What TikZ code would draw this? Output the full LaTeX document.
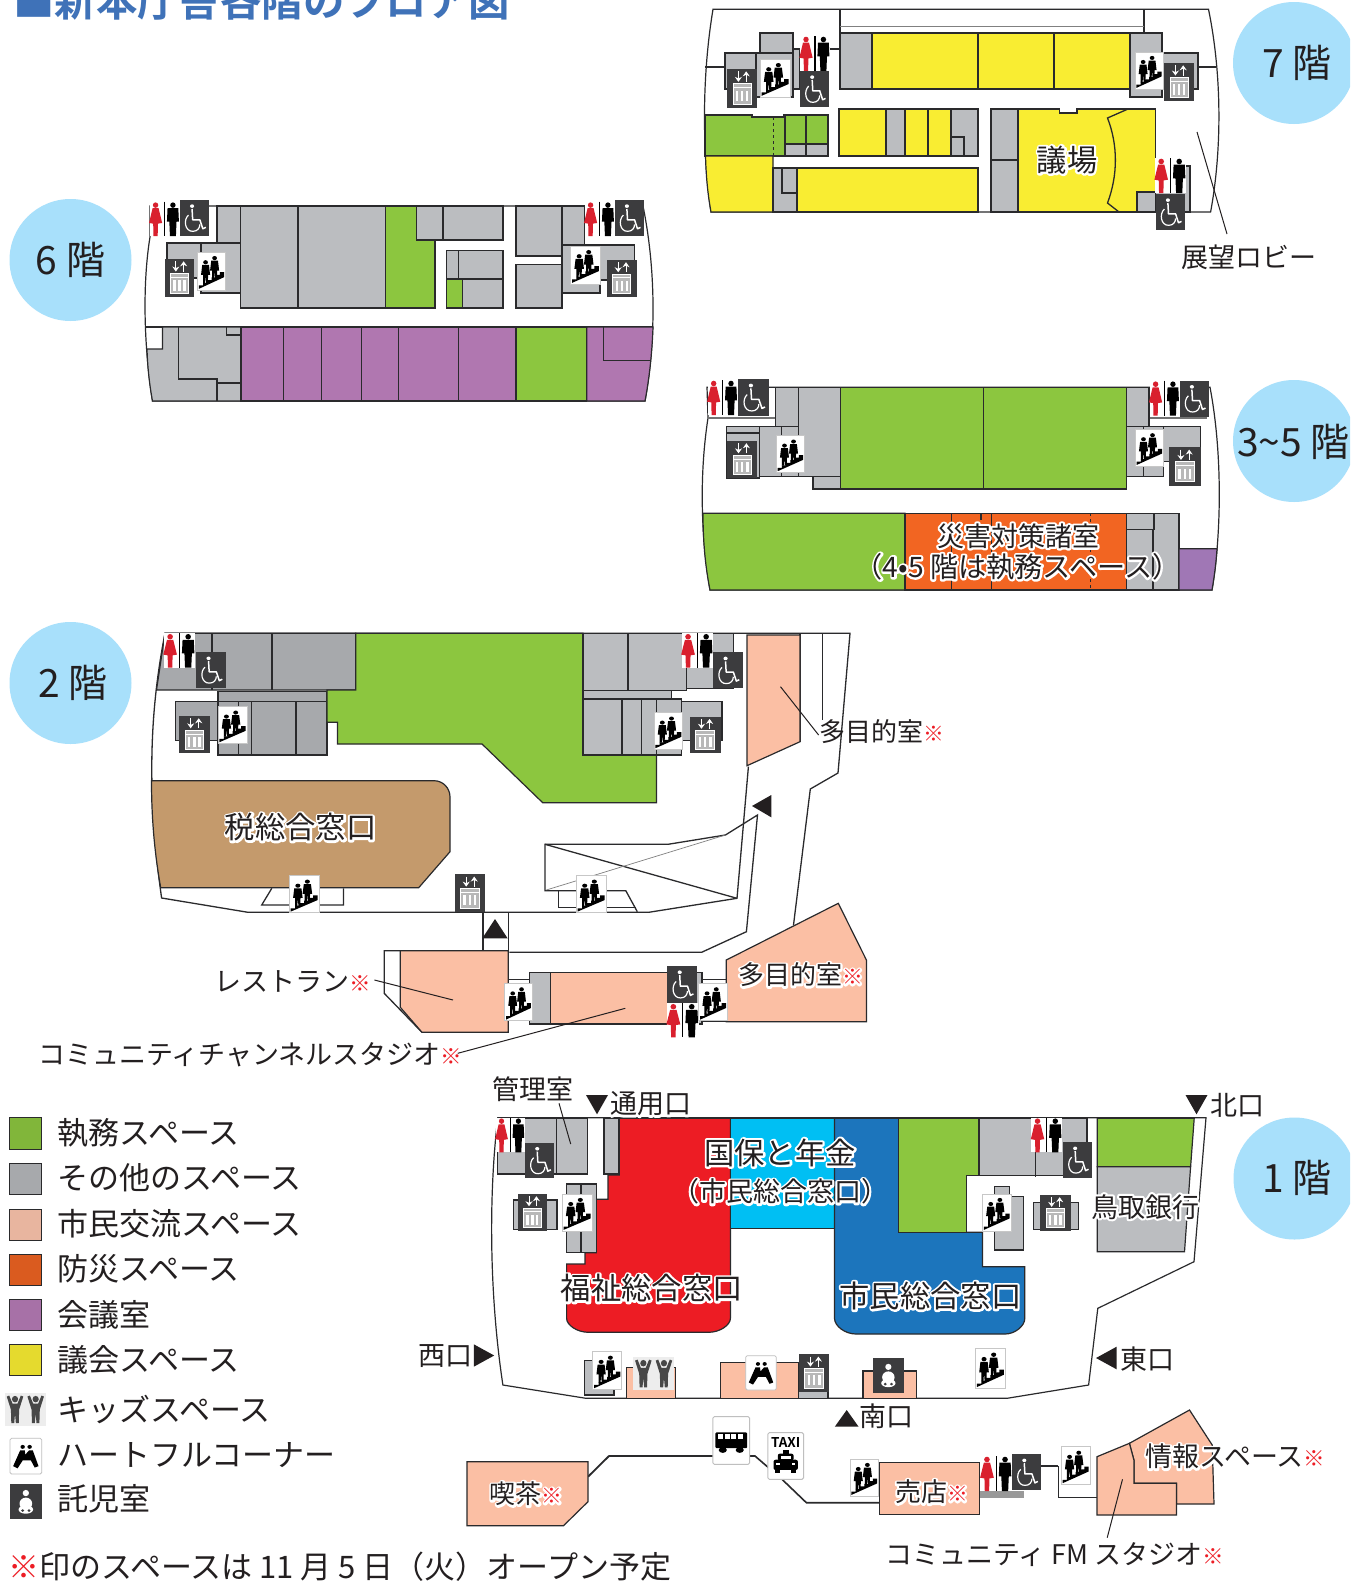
\documentclass[tikz,border=0pt]{standalone}
\usepackage{fontspec}
\usetikzlibrary{arrows.meta}
\setmainfont{Noto Sans CJK JP}[BoldFont={Noto Sans CJK JP Bold}]
\definecolor{ink}{HTML}{231F20}
\definecolor{wall}{HTML}{2A2A2C}
\definecolor{cgreen}{HTML}{8CC63F}
\definecolor{cgray}{HTML}{BBBDC0}
\definecolor{cdark}{HTML}{A7A9AC}
\definecolor{cyellow}{HTML}{F9ED32}
\definecolor{cpurple}{HTML}{B077B0}
\definecolor{cviolet}{HTML}{A077B5}
\definecolor{cpink}{HTML}{FBBFA4}
\definecolor{corange}{HTML}{F26522}
\definecolor{cred}{HTML}{ED1C24}
\definecolor{ccyan}{HTML}{00BFF3}
\definecolor{cblue}{HTML}{1C75BC}
\definecolor{ctan}{HTML}{C49A6C}
\definecolor{csky}{HTML}{A8E0FB}
\definecolor{ctitle}{HTML}{3F72B8}
\definecolor{kdark}{HTML}{3C3C3E}
\definecolor{kome}{HTML}{ED1C24}
\definecolor{wred}{HTML}{D9202E}
\newcommand\kome{{\fontsize{0.8em}{1em}\selectfont\bfseries\textcolor{kome}{※}}}
\newcommand\plainkome{{\fontsize{0.8em}{1em}\selectfont\bfseries ※}}
\newcommand\hl[1]{\begingroup\let\kome\plainkome\rlap{\special{pdf:code q 2 Tr 4.2 w 1 1 1 RG 1 1 1 rg 1 j}#1\special{pdf:code Q}}\endgroup #1}
\newcommand\px[1]{\fontsize{#1}{#1}\selectfont}
\tikzset{
 x=1pt,y=-1pt,
 base/.style={draw=wall,line width=1.2pt,line join=miter},
 fgn/.style={base,fill=cgreen},
 fgy/.style={base,fill=cgray},
 fdk/.style={base,fill=cdark},
 fye/.style={base,fill=cyellow},
 fpu/.style={base,fill=cpurple},
 fvi/.style={base,fill=cviolet},
 fpk/.style={base,fill=cpink},
 for/.style={base,fill=corange},
 fre/.style={base,fill=cred},
 fcy/.style={base,fill=ccyan},
 fbl/.style={base,fill=cblue},
 fta/.style={base,fill=ctan},
 shell/.style={base,fill=white},
 walls/.style={draw=wall,line width=1.3pt},
 thin wall/.style={draw=wall,line width=.8pt},
 leader/.style={draw=ink,line width=1pt},
 tri/.style={fill=ink},
 lab/.style={inner sep=0pt,text=ink,font=\px{27}},
 labs/.style={inner sep=0pt,text=ink,font=\px{26}},
 big/.style={inner sep=0pt,text=ink,font=\px{30.3}},
 legendtext/.style={inner sep=0pt,text=ink,font=\px{31}},
 sq/.style={draw=wall,line width=1pt},
 bubble/.style={fill=csky},
 flo/.style={inner sep=0pt,text=ink,font=\px{39}}
}
\newcommand\icoin[4]{\pgfmathsetmacro\icw{#3-#1}\pgfmathsetmacro\ich{#4-#2}}
\newcommand\esc[4]{\icoin{#1}{#2}{#3}{#4}\begin{scope}[shift={(#1,#2)},x=\icw pt,y=-\ich pt]
 \fill[white,draw=black!22,line width=.6pt] (0,0) rectangle (1,1);
 \fill[black] (.05,.97)--(.05,.88)--(.2,.88)--(.2,.81)--(.35,.81)--(.35,.74)--(.5,.74)--(.5,.67)--(.65,.67)--(.65,.6)--(.8,.6)--(.8,.53)--(.95,.53)--(.95,.66)--cycle;
 \foreach \dx/\dy in {0/0,.32/-.11}{\begin{scope}[shift={(\dx,\dy)}]
  \fill[black] (.29,.27) ellipse[x radius=.085,y radius=.055];
  \fill[black] (.17,.34)--(.41,.34)--(.45,.6)--(.38,.6)--(.37,.82)--(.31,.82)--(.29,.62)--(.27,.82)--(.2,.82)--(.2,.6)--(.13,.6)--cycle;
 \end{scope}}
\end{scope}}
\newcommand\elev[4]{\icoin{#1}{#2}{#3}{#4}\begin{scope}[shift={(#1,#2)},x=\icw pt,y=-\ich pt]
 \fill[kdark] (0,0) rectangle (1,1);
 \draw[white,line width=1pt,-{Stealth[length=5pt,width=7pt]}] (.38,.06)--(.38,.33);
 \draw[white,line width=1pt,-{Stealth[length=5pt,width=7pt]}] (.64,.33)--(.64,.06);
 \fill[white!72!black] (.2,.38) rectangle (.8,.9);
 \draw[white,line width=.9pt] (.2,.38) rectangle (.8,.9);
 \draw[white,line width=.8pt] (.2,.48)--(.8,.48);
 \foreach \bx in {.33,.5,.67}{\fill[white] (\bx-.04,.56) rectangle (\bx+.04,.83);}
\end{scope}}
\newcommand\wc[4]{\icoin{#1}{#2}{#3}{#4}\begin{scope}[shift={(#1,#2)},x=\icw pt,y=-\ich pt]
 \fill[white] (0,0) rectangle (1,1);
 \fill[wred] (.2,.1) ellipse[x radius=.09,y radius=.08];
 \fill[wred] (.1,.19)--(.3,.19)--(.42,.62)--(.28,.64)--(.27,1)--(.13,1)--(.12,.64)--(-.02,.62)--cycle;
 \draw[black,line width=1.2pt] (.5,0)--(.5,1);
 \fill[black] (.78,.1) ellipse[x radius=.09,y radius=.08];
 \fill[black] (.6,.19)--(.96,.19)--(.98,.58)--(.9,.58)--(.88,1)--(.68,1)--(.66,.58)--(.58,.58)--cycle;
\end{scope}}
\newcommand\wheel[4]{\icoin{#1}{#2}{#3}{#4}\begin{scope}[shift={(#1,#2)},x=\icw pt,y=-\ich pt]
 \fill[kdark] (0,0) rectangle (1,1);
 \fill[white] (.42,.17) ellipse[x radius=.07,y radius=.05];
 \draw[white,line width=1.5pt,line join=round] (.42,.25)--(.44,.55)--(.68,.55)--(.78,.8)--(.88,.76);
 \draw[white,line width=1.2pt] (.3,.42) .. controls (.12,.55) and (.18,.88) .. (.45,.87) .. controls (.6,.87) and (.68,.78) .. (.68,.68);
\end{scope}}
\newcommand\kids[4]{\icoin{#1}{#2}{#3}{#4}\begin{scope}[shift={(#1,#2)},x=\icw pt,y=-\ich pt]
 \fill[black!7] (0,0) rectangle (1,1);
 \foreach \dx in {0,.5}{\begin{scope}[shift={(\dx,0)}]
  \fill[black!72] (.25,.18) ellipse[x radius=.075,y radius=.1];
  \fill[black!72] (.05,.1)--(.11,.07)--(.19,.32)--(.31,.32)--(.39,.07)--(.45,.1)--(.35,.5)--(.34,.92)--(.27,.92)--(.25,.62)--(.23,.92)--(.16,.92)--(.15,.5)--cycle;
 \end{scope}}
\end{scope}}
\newcommand\heartc[4]{\icoin{#1}{#2}{#3}{#4}\begin{scope}[shift={(#1,#2)},x=\icw pt,y=-\ich pt]
 \fill[white,draw=black!25,line width=.8pt,rounded corners=1.5pt] (0,0) rectangle (1,1);
 \fill[black] (.4,.24) ellipse[x radius=.07,y radius=.055];
 \fill[black] (.62,.24) ellipse[x radius=.07,y radius=.055];
 \fill[black] (.32,.34)--(.47,.34)--(.48,.46)--(.6,.34)--(.72,.34)--(.9,.78)--(.78,.82)--(.66,.62)--(.4,.62)--(.24,.84)--(.1,.78)--cycle;
\end{scope}}
\newcommand\baby[4]{\icoin{#1}{#2}{#3}{#4}\begin{scope}[shift={(#1,#2)},x=\icw pt,y=-\ich pt]
 \fill[kdark] (0,0) rectangle (1,1);
 \fill[white] (.5,.25) ellipse[x radius=.1,y radius=.09];
 \fill[white] (.5,.55) ellipse[x radius=.2,y radius=.17];
 \fill[white] (.5,.72) ellipse[x radius=.23,y radius=.12];
 \fill[kdark] (.4,.75) ellipse[x radius=.05,y radius=.04];
 \fill[kdark] (.6,.75) ellipse[x radius=.05,y radius=.04];
\end{scope}}
\begin{document}
\begin{tikzpicture}
\clip (0,0) rectangle (1350,1582);
\fill[white] (0,0) rectangle (1350,1582);
% ---- title
\node[inner sep=0pt,anchor=west,text=ctitle,font=\px{41.4}\bfseries] (title) at (13,1) {■新本庁舎各階のフロア図};
% ---- circles
\fill[bubble] (1294,63) circle[radius=61];
\fill[bubble] (70.5,260) circle[radius=61];
\fill[bubble] (1294,441) circle[radius=61];
\fill[bubble] (70.5,683) circle[radius=61];
\fill[bubble] (1294.5,1178.5) circle[radius=61];
\node[flo] (f7) at (1297,63) {7 階};
\node[flo] (f6) at (70.5,260) {6 階};
\node[flo,anchor=west] (f35) at (1237,442) {3\textasciitilde 5 階};
\node[flo] (f2) at (73,683) {2 階};
\node[flo] (f1) at (1297,1178) {1 階};
% ================ 7F
\draw[shell] (713,9.3)--(1208.5,9.3) .. controls (1222,75) and (1222,150) .. (1210.6,212)--(711,212) .. controls (702,150) and (702,75) .. (713,9.3)--cycle;
\draw[walls] (840,9.3)--(840,89);
\draw[walls] (1144,9.3)--(1144,33);
\draw[draw=black!50,line width=1.4pt] (840,26.7)--(1144,26.7);
\draw[walls] (840,33)--(1144,33);
\draw[walls] (705,67)--(725,67);
\draw[walls] (1198,67)--(1216,67);
\draw[walls] (830,49)--(840,49);
\draw[fgy] (760,33) rectangle (793,53);
\draw[fgy] (725,53) rectangle (760,89);
\draw[fgy] (756,53) rectangle (793,97);
\draw[fgy] (793,49) rectangle (800,89);
\draw[fgy] (840,33) rectangle (872,89);
\draw[fye] (872,33) rectangle (1130,89);
\draw[walls] (978,33)--(978,89);
\draw[walls] (1054,33)--(1054,89);
\draw[fgy] (1130,33) rectangle (1162,97);
\draw[fgy] (1163,53) rectangle (1198,89);
% mid row
\draw[fgn] (705,115)--(752,115)--(752,117)--(784,117)--(784,115)--(828,115)--(828,156)--(705,156)--cycle;
\draw[thin wall,dashed] (773,117)--(773,156);
\draw[walls] (785,115)--(785,156);
\draw[walls] (806,115)--(806,156);
\draw[fgy] (785,144) rectangle (828,156);
\draw[walls] (806,144)--(806,156);
\draw[fye] (705.5,156)--(773,156)--(773,212)--(711,212) .. controls (707,190) and (706,172) .. (705.5,156)--cycle;
\draw[fgy] (773,168) rectangle (797,212);
\draw[walls] (782,168)--(782,193)--(797,193);
\draw[fye] (797,168) rectangle (978,212);
\draw[fye] (839,109) rectangle (886,156);
\draw[fgy] (886,109) rectangle (905,156);
\draw[fye] (905,109) rectangle (951,156);
\draw[walls] (928,109)--(928,156);
\draw[fgy] (951,109) rectangle (978,156);
\draw[walls] (951,137)--(964,137)--(964,156);
\draw[fgy] (991,109) rectangle (1018,212);
\draw[walls] (991,160)--(1018,160);
\draw[fye] (1018,109)--(1059.5,109)--(1059.5,113)--(1077,113)--(1077,109)--(1155.5,109)--(1155.5,212)--(1018,212)--cycle;
\draw[walls] (1128,109)--(1107.5,118) .. controls (1118,145) and (1118,175) .. (1107.5,203)--(1119,212);
\draw[fgy] (1137,192) rectangle (1155.5,212);
\draw[fgy] (1155.5,166) rectangle (1190,212);
\wc{800}{36}{830}{71}
\wheel{800}{71}{829}{107}
\esc{760}{59}{790}{97}
\elev{727}{69}{757}{108}
\esc{1135}{52}{1163}{89}
\elev{1164}{63}{1194}{101}
\wc{1155}{158}{1186}{193}
\wheel{1155.5}{194}{1185}{230}
\coordinate (l7a) at (1197,132);
\coordinate (l7b) at (1227,234);
\draw[leader] (l7a)--(l7b);
\node[lab] (t7h) at (1249,257) {展望ロビー};
\node[big] (t7g) at (1067,160) {\hl{議場}};
% ================ 6F
\draw[shell] (209,206)--(643,206) .. controls (656,270) and (656,340) .. (645,401)--(152.5,401) .. controls (143,340) and (143,280) .. (150,237)--(150,206)--cycle;
\draw[fgy] (217,206) rectangle (240.6,243);
\draw[fgy] (240.6,206) rectangle (298,308);
\draw[fgy] (298,206) rectangle (385.5,308);
\draw[fgn] (385.5,206)--(416.7,206)--(416.7,240)--(435,240)--(435,308)--(385.5,308)--cycle;
\draw[fgy] (416.7,206) rectangle (443,240);
\draw[fgy] (443,206) rectangle (503,240);
\draw[fgy] (446.6,250.7) rectangle (503,308);
\draw[walls] (458.5,250.7)--(458.5,279);
\draw[walls] (446.6,279)--(503,279);
\draw[fgn] (446.6,279) rectangle (462.4,308);
\draw[fgy] (516,206) rectangle (562,256);
\draw[fgy] (516,264.7) rectangle (562,308);
\draw[fgy] (562,206) rectangle (584.6,245);
\draw[fgy] (562,245) rectangle (600,293);
\draw[fgy] (600,245) rectangle (634.6,280);
\draw[fgy] (167,243) rectangle (201,278);
\draw[fgy] (201,243) rectangle (240.6,293);
\draw[walls] (145,327)--(653,327);
\draw[fgy] (162.4,327)--(241,327)--(241,401)--(152.5,401) .. controls (149.5,385) and (147.5,367) .. (147,349)--(162.4,349)--cycle;
\draw[walls] (178.6,327)--(178.6,379)--(217,379)--(217,401);
\draw[walls] (217,383)--(241,383);
\draw[walls] (226.5,327)--(226.5,335)--(241,335);
\draw[fpu] (241,327) rectangle (516,401);
\foreach \vx in {283.3,321.4,361.5,398.7,458.5}{\draw[walls] (\vx,327)--(\vx,401);}
\draw[fgn] (516,327) rectangle (586.8,401);
\draw[fpu] (586.8,327)--(653,327) .. controls (652,355) and (649,380) .. (645,401)--(586.8,401)--cycle;
\draw[walls] (603.4,327)--(603.4,360.7)--(651,360.7);
\wc{149.6}{201.7}{179.5}{236}
\wheel{179.5}{200}{209.4}{236}
\esc{197.4}{252}{225.6}{290}
\elev{164.5}{259}{194.4}{297}
\wc{584.6}{201.7}{614.5}{236}
\wheel{614.5}{200}{644}{236}
\esc{570.5}{246}{600.4}{284}
\elev{606.8}{260}{636.8}{297}
% ================ 3-5F
\draw[shell] (707,387.3)--(1210,387.3) .. controls (1222,450) and (1222,530) .. (1212,590)--(710,590) .. controls (700,530) and (700,470) .. (708,418)--cycle;
\draw[draw=black!55,line width=1.6pt] (707,417.7)--(775.4,417.7);
\draw[draw=black!55,line width=1.6pt] (1149,417.7)--(1207,417.7);
\draw[fgy] (726.6,426.7) rectangle (759.4,478);
\draw[walls] (726.6,433)--(759.4,433);
\draw[fgy] (775.4,387.3)--(840.7,387.3)--(840.7,489)--(813,489)--(813,476.7)--(759.4,476.7)--(759.4,426.7)--(775.4,426.7)--cycle;
\draw[walls] (798.6,387.3)--(798.6,476.7);
\draw[walls] (775.4,426.7)--(798.6,426.7);
\draw[walls] (781.7,426.7)--(781.7,476.7);
\draw[walls] (813,476.7)--(840.7,476.7);
\draw[fgn] (840.7,387.3) rectangle (1126.5,489);
\draw[walls] (983.3,387.3)--(983.3,489);
\draw[fgy] (1126.5,387.3) rectangle (1149,426.7);
\draw[fgy] (1126.5,426.7) rectangle (1163.5,476.7);
\draw[walls] (1143.5,426.7)--(1143.5,476.7);
\draw[fgy] (1163.5,426.7) rectangle (1200.5,461.7);
\draw[fgn] (703,513.3)--(905,513.3)--(905,590)--(710,590) .. controls (705,565) and (703,540) .. (703,513.3)--cycle;
\draw[for] (905,513.3) rectangle (1126.5,590);
\draw[walls] (951.8,513.3)--(951.8,590);
\draw[walls] (991.8,513.3)--(991.8,590);
\draw[walls] (981,513.3)--(981,520);
\draw[thin wall,dashed] (1090.7,513.3)--(1090.7,590);
\draw[fgy] (1126.5,513.3) rectangle (1179,590);
\draw[walls] (1126.5,529.3)--(1154,529.3)--(1154,513.3);
\draw[walls] (1153,529.3)--(1153,590);
\draw[fvi] (1179,548.7)--(1217,548.7) .. controls (1216,565) and (1214,578) .. (1212,590)--(1179,590)--cycle;
\wc{707.7}{380}{737.6}{415}
\wheel{738}{379.3}{768.7}{415.7}
\esc{776.3}{435.7}{804.5}{472.3}
\elev{727}{441}{757.3}{478.3}
\wc{1149.6}{380.7}{1179.5}{415.7}
\wheel{1179.5}{380.7}{1209}{416.7}
\esc{1135.3}{429.3}{1163.5}{466}
\elev{1169}{447.3}{1200.5}{485.7}
\node[lab] (t3a) at (1018,536) {\hl{災害対策諸室}};
\node[inner sep=0pt,text=ink,font=\px{28.2}] (t3b) at (1017.5,566.7) {\hl{（4•5 階は執務スペース）}};
% ================ 2F
\draw[walls] (483,912.3)--(248,912.3)--(161.6,898) .. controls (148,800) and (148,720) .. (165,633.3)--(850,633.3)--(838,773)--(810.3,789)--(793.5,925);
\draw[walls] (483,912.3)--(648.7,912.3)--(737,898.3)--(748.4,766.7);
\draw[walls] (800,633.3)--(800,741.7);
\draw[walls] (822.7,633.3)--(822.7,720);
\draw[walls] (483,912.3)--(483,952);
\draw[walls] (508.7,912.3)--(508.7,952.3);
\draw[walls] (509.3,952.3)--(701.6,952.3)--(746.4,931.7)--(757.5,815)--(725.4,835)--(668,844.3)--(545,844.3)--(545,890.7)--(625.8,890.7)--(637.3,911.7);
\draw[walls] (558.7,890.7)--(558.7,907.3)--(636,907.3);
\draw[walls] (545,844.3)--(737,898.3);
\draw[draw=black!50,line width=.7pt] (546.3,890)--(725.4,835);
\draw[fdk] (165,633.3)--(355.8,633.3)--(355.8,690)--(156.5,690)--cycle;
\draw[walls] (272,633.3)--(272,690);
\draw[walls] (212,633.3)--(212,690);
\draw[fdk] (218,691.7) rectangle (327,755);
\draw[walls] (218,701.7)--(327,701.7);
\draw[walls] (238.7,701.7)--(238.7,755);
\draw[walls] (251.6,701.7)--(251.6,755);
\draw[walls] (296,701.7)--(296,755);
\draw[fdk] (175.8,701.7) rectangle (218,740.7);
\draw[fgn] (355.8,633.3)--(583,633.3)--(583,755)--(656.5,755)--(656.5,802.7)--(542.7,802.7)--(482,744)--(337.4,744)--(337.4,722.3)--(326.9,722.3)--(326.9,690)--(355.8,690)--cycle;
\draw[fgy] (583,633.3) rectangle (686.4,690.7);
\draw[walls] (628,633.3)--(628,690.7);
\draw[fgy] (686.4,633.3) rectangle (733.2,688.3);
\draw[fgy] (583,690.7) rectangle (671.7,699);
\draw[fgy] (583,699) rectangle (681.8,755);
\draw[walls] (622,699)--(622,755);
\draw[walls] (641.4,699)--(641.4,755);
\draw[walls] (656.5,699)--(656.5,755);
\draw[fgy] (681.8,701.7) rectangle (722,740.7);
\draw[fpk] (747,635)--(800,635)--(800,741.7)--(747,765.7)--cycle;
\draw[fta] (151.5,780.7)--(434,780.7) .. controls (443,780.7) and (450,788) .. (450,797)--(450,851.7)--(418.7,887.7)--(160.7,887.7) .. controls (154,850) and (151.5,815) .. (151.5,780.7)--cycle;
\draw[walls] (271.8,888.3)--(261.7,905)--(343.4,905)--(343.4,888.3);
\fill[tri] (482.3,938.3)--(507.6,938.3)--(495,919)--cycle;
\fill[tri] (771.3,795)--(771.3,817.3)--(752,806)--cycle;
\wc{163.9}{633.3}{195}{667.7}
\wheel{196}{652.3}{225.9}{687.7}
\esc{218}{706.7}{247}{743.3}
\elev{179}{716}{209.8}{753.3}
\wc{681.8}{633.3}{713}{667.7}
\wheel{713}{652.3}{742.9}{688.3}
\esc{654}{712.7}{682.7}{749.3}
\elev{689.6}{716.7}{720.8}{753.3}
\esc{289.2}{875.7}{319}{912.7}
\elev{454.5}{874.3}{485.3}{911.7}
\esc{576}{875.7}{606}{912.7}
\node[big] (t2t) at (300.7,827.3) {\hl{税総合窓口}};
\coordinate (l2a) at (780.5,686.7);
\coordinate (l2b) at (818.6,735);
\draw[leader] (l2a)--(l2b);
\node[labs,anchor=west] (t2m) at (819,732) {多目的室\kome};
% 2F annex
\draw[walls] (400.3,950.7)--(384.2,950.7)--(384.2,993.3)--(422,1032.3);
\draw[fpk] (400.3,950.7)--(508.2,950.7)--(508.2,1032.3)--(422,1032.3)--(400.3,1007.3)--cycle;
\draw[walls] (508,979.3)--(529.4,979.3);
\draw[walls] (508,1020.7)--(529.4,1020.7);
\draw[fgy] (529.4,972.3) rectangle (550.7,1024);
\draw[fpk] (550.7,972.3) rectangle (668.4,1024);
\draw[fgy] (668.4,972.3) rectangle (702,1024);
\draw[walls] (701.6,979.3)--(726.3,979.3);
\draw[walls] (701.6,1021.7)--(726.3,1021.7);
\draw[fpk] (726.3,960)--(838.3,903.3)--(866.4,960)--(866.4,1021.7)--(726.3,1021.7)--cycle;
\wheel{667.2}{966}{697}{1002.7}
\wc{667}{1003.3}{698.7}{1037.3}
\esc{698.7}{983.3}{727.5}{1020.7}
\esc{504.7}{983.3}{532.3}{1020.7}
\coordinate (lra) at (374.4,980);
\coordinate (lrb) at (453,1000);
\draw[leader] (lra)--(lrb);
\node[lab,anchor=west] (t2r) at (214,982) {レストラン\kome};
\coordinate (lsa) at (457.7,1053.3);
\coordinate (lsb) at (625.3,1008.3);
\draw[leader] (lsa)--(lsb);
\node[lab,anchor=west] (t2s) at (38,1055) {コミュニティチャンネルスタジオ\kome};
\node[labs,anchor=west] (t2n) at (738,975) {\hl{多目的室\kome}};
% ================ 1F
\draw[shell] (497.8,1117.7)--(1206,1117.7)--(1194,1261.7)--(1097.8,1308.3)--(1088.6,1385)--(1007,1398.3)--(586,1398.3)--(502.9,1385) .. controls (490,1300) and (488,1200) .. (497.8,1117.7)--cycle;
\draw[fgy] (497.8,1118.3) rectangle (587.6,1174);
\draw[walls] (556.4,1118.3)--(556.4,1174);
\draw[fgy] (603.9,1118.3) rectangle (618.2,1174);
\draw[fre] (619.2,1118.3)--(730.4,1118.3)--(730.4,1318.3) .. controls (730.4,1325) and (720,1332.3) .. (708.5,1332.3)--(588.6,1332.3) .. controls (577,1332.3) and (566.6,1325) .. (566.6,1318.3)--(566.6,1264)--(585,1264)--(585,1252.7)--(596.2,1252.7)--(596.2,1199.3)--(608,1199.3)--(608,1175)--(619.2,1175)--cycle;
\draw[fgy] (566.6,1184) rectangle (596.2,1252.7);
\draw[walls] (581,1184)--(581,1252.7);
\draw[fgy] (513.6,1200) rectangle (557,1229.3);
\draw[fcy] (730.4,1118.3) rectangle (834.5,1228.3);
\draw[fbl] (834.5,1118.3)--(898.8,1118.3)--(898.8,1232.3)--(982.4,1232.3)--(982.4,1266.7)--(1024.8,1266.7)--(1024.8,1318.3) .. controls (1024.8,1326) and (1015,1334) .. (1005,1334)--(856,1334) .. controls (845,1334) and (834.5,1326) .. (834.5,1318.3)--cycle;
\draw[fgn] (898.8,1118.3)--(978.9,1118.3)--(978.9,1175.7)--(966.1,1175.7)--(966.1,1232.3)--(898.8,1232.3)--cycle;
\draw[fgy] (978.9,1118.3) rectangle (1087,1175.7);
\draw[thin wall] (1035,1150)--(1035,1177);
\draw[fgy] (994.2,1186.7)--(1009.5,1186.7)--(1009.5,1196.7)--(1023.8,1196.7)--(1023.8,1250)--(994.2,1250)--cycle;
\draw[fgy] (1033.5,1202.7) rectangle (1078.4,1229.3);
\draw[fgn] (1097.2,1118.3)--(1194.2,1118.3)--(1190.6,1166.7)--(1097.2,1166.7)--cycle;
\draw[fgy] (1097.2,1166.7)--(1190.6,1166.7)--(1184.5,1251.7)--(1097.2,1251.7)--cycle;
\draw[fgy] (584.5,1360.7) rectangle (614,1395);
\draw[fpk] (626.8,1367.3) rectangle (675.3,1398.3);
\draw[fpk] (720.2,1362.7) rectangle (798.8,1398.3);
\draw[fgy] (798.8,1391.7) rectangle (828,1398.3);
\draw[fpk] (863,1371) rectangle (916.6,1398.3);
\wc{495.7}{1117.7}{524.8}{1152.3}
\wheel{524.8}{1142.7}{554.4}{1178.3}
\elev{518.2}{1194}{546.7}{1231}
\esc{562}{1194}{592}{1231}
\wc{1031.4}{1117.7}{1062}{1152.3}
\wheel{1063}{1142.3}{1092}{1177.7}
\esc{982.4}{1194}{1011}{1231}
\elev{1040}{1195}{1070.7}{1231}
\esc{592.7}{1351.7}{621.7}{1389.3}
\kids{633}{1357.3}{674.3}{1390}
\heartc{745.7}{1355.7}{776.3}{1390}
\elev{798.8}{1354.3}{829.4}{1391.7}
\baby{872.8}{1358.3}{903.9}{1392.7}
\esc{975.3}{1348.3}{1005.4}{1388.3}
\fill[tri] (586,1095)--(608,1095)--(597,1114.3)--cycle;
\fill[tri] (1185.5,1095)--(1207.5,1095)--(1196.5,1114.3)--cycle;
\fill[tri] (473.8,1344.3)--(473.8,1366.7)--(494.2,1355.5)--cycle;
\fill[tri] (1116.6,1346.7)--(1116.6,1369.3)--(1096,1358)--cycle;
\fill[tri] (834.8,1426.7)--(858.6,1426.7)--(846.7,1410)--cycle;
\coordinate (lka) at (559,1103.3);
\coordinate (lkb) at (570.7,1144);
\draw[leader] (lka)--(lkb);
\node[lab] (t1k) at (533,1089) {管理室};
\node[lab,anchor=west] (t1u) at (610,1104) {\hl{通用口}};
\node[lab,anchor=west] (t1n) at (1210,1105) {北口};
\node[lab,anchor=west] (t1w) at (418,1355.7) {西口};
\node[lab,anchor=west] (t1e) at (1120,1359) {東口};
\node[lab,anchor=west] (t1s) at (859.5,1416.7) {南口};
\node[big] (t1a) at (780,1152.7) {\hl{国保と年金}};
\node[lab] (t1b) at (780,1191.7) {\hl{（市民総合窓口）}};
\node[big] (t1c) at (651.8,1288.3) {\hl{福祉総合窓口}};
\node[big] (t1d) at (930.4,1296) {\hl{市民総合窓口}};
\node[lab] (t1g) at (1145,1206.7) {\hl{鳥取銀行}};
% outbuildings
\coordinate (ca) at (588,1476.7);
\coordinate (cb) at (609,1456);
\coordinate (cc) at (712.8,1456);
\draw[draw=wall,line width=1.8pt] (ca)--(cb)--(cc);
\draw[fpk] (467,1461.7)--(588,1461.7)--(588,1501.7)--(563.5,1525.7)--(467,1525.7)--cycle;
\draw[draw=wall,line width=1.6pt] (749.7,1456)--(755,1456)--(782,1479.3)--(806.4,1502.7)--(879.6,1502.7);
\begin{scope}[shift={(712.8,1416.7)},x=36.9pt,y=-47.6pt]
 \fill[white,draw=black!25,line width=1pt,rounded corners=1.5pt] (0,0) rectangle (1,1);
 \fill[black,rounded corners=1pt] (.07,.33) rectangle (.93,.66);
 \foreach \wx in {.14,.32,.5,.68}{\fill[white] (\wx,.37) rectangle (\wx+.14,.47);}
 \fill[black] (.27,.7) ellipse[x radius=.11,y radius=.06];
 \fill[black] (.73,.7) ellipse[x radius=.11,y radius=.06];
\end{scope}
\begin{scope}[shift={(767.8,1432.7)},x=35.8pt,y=-46.6pt]
 \fill[white,draw=black!25,line width=1pt,rounded corners=1.5pt] (0,0) rectangle (1,1);
 \node[inner sep=0pt,font=\px{13.5}\bfseries] (taxi) at (.5,.2) {TAXI};
 \fill[black] (.42,.38) rectangle (.58,.45);
 \fill[black,rounded corners=2pt] (.28,.45) rectangle (.72,.6);
 \fill[black,rounded corners=2pt] (.16,.58) rectangle (.84,.8);
 \fill[white] (.36,.49) rectangle (.64,.57);
 \fill[white] (.23,.64) rectangle (.33,.7);
 \fill[white] (.67,.64) rectangle (.77,.7);
 \fill[black] (.2,.8) rectangle (.34,.87);
 \fill[black] (.66,.8) rectangle (.8,.87);
\end{scope}
\draw[draw=black!40,fill=black!40] (979.5,1491) rectangle (1023.2,1497.3);
\draw[fpk] (879.6,1462.3) rectangle (979.5,1514.3);
\draw[draw=wall,line width=1.8pt] (1041.4,1466)--(1058.4,1466);
\draw[walls] (1058.4,1466)--(1058.4,1497.3)--(1097,1497.3);
\wc{980.7}{1456}{1011.9}{1491}
\wheel{1011.9}{1454.3}{1041.4}{1490}
\esc{850}{1459}{878.5}{1496}
\esc{1061.2}{1446.7}{1090}{1484.3}
\draw[fpk] (1129.4,1443.3)--(1189.5,1410)--(1212.2,1445)--(1214,1504)--(1176.4,1504)--(1176.4,1483.3)--(1133.9,1483.3)--(1133.9,1460)--cycle;
\draw[fpk] (1097,1456.7)--(1129.4,1443.3)--(1133.9,1460)--(1133.9,1483.3)--(1176.4,1483.3)--(1176.4,1515)--(1097,1515)--cycle;
\coordinate (lfa) at (1122.5,1479.3);
\coordinate (lfb) at (1107.2,1537.7);
\draw[leader] (lfa)--(lfb);
\node[lab,anchor=west] (t1m) at (885,1554.3) {コミュニティ FM スタジオ\kome};
\node[lab,anchor=west] (t1i) at (1145,1456.7) {\hl{情報スペース\kome}};
\node[labs,anchor=west] (t1h) at (489.5,1494) {\hl{喫茶\kome}};
\node[labs,anchor=west] (t1j) at (895,1492) {\hl{売店\kome}};
% ================ legend
\draw[sq,fill=cgreen!92!black] (9.3,1117.7) rectangle (41,1149.3);
\draw[sq,fill=cdark] (9.3,1163.3) rectangle (41,1194.3);
\draw[sq,fill=cpink!85!gray] (9.3,1209) rectangle (41,1240);
\draw[sq,fill=corange!90!black] (9.3,1254) rectangle (41,1285);
\draw[sq,fill=cpurple!95!black] (9.3,1299.3) rectangle (41,1330.3);
\draw[sq,fill=cyellow!92!black] (9.3,1344.3) rectangle (41,1375.3);
\kids{4.7}{1393.3}{46}{1425.7}
\heartc{10}{1438.3}{41.7}{1474}
\baby{10}{1484.3}{41.7}{1519.3}
\node[legendtext,anchor=west] (k1) at (57,1133) {執務スペース};
\node[legendtext,anchor=west] (k2) at (57,1177.7) {その他のスペース};
\node[legendtext,anchor=west] (k3) at (57,1224) {市民交流スペース};
\node[legendtext,anchor=west] (k4) at (57,1268.3) {防災スペース};
\node[legendtext,anchor=west] (k5) at (57,1314.3) {会議室};
\node[legendtext,anchor=west] (k6) at (57,1359.3) {議会スペース};
\node[legendtext,anchor=west] (k7) at (57,1409.3) {キッズスペース};
\node[legendtext,anchor=west] (k8) at (57,1455) {ハートフルコーナー};
\node[legendtext,anchor=west] (k9) at (57,1499) {託児室};
\node[legendtext,anchor=west] (foot) at (8,1567) {\textcolor{kome}{\bfseries ※}印のスペースは 11 月 5 日（火）オープン予定};
\end{tikzpicture}
\end{document}
